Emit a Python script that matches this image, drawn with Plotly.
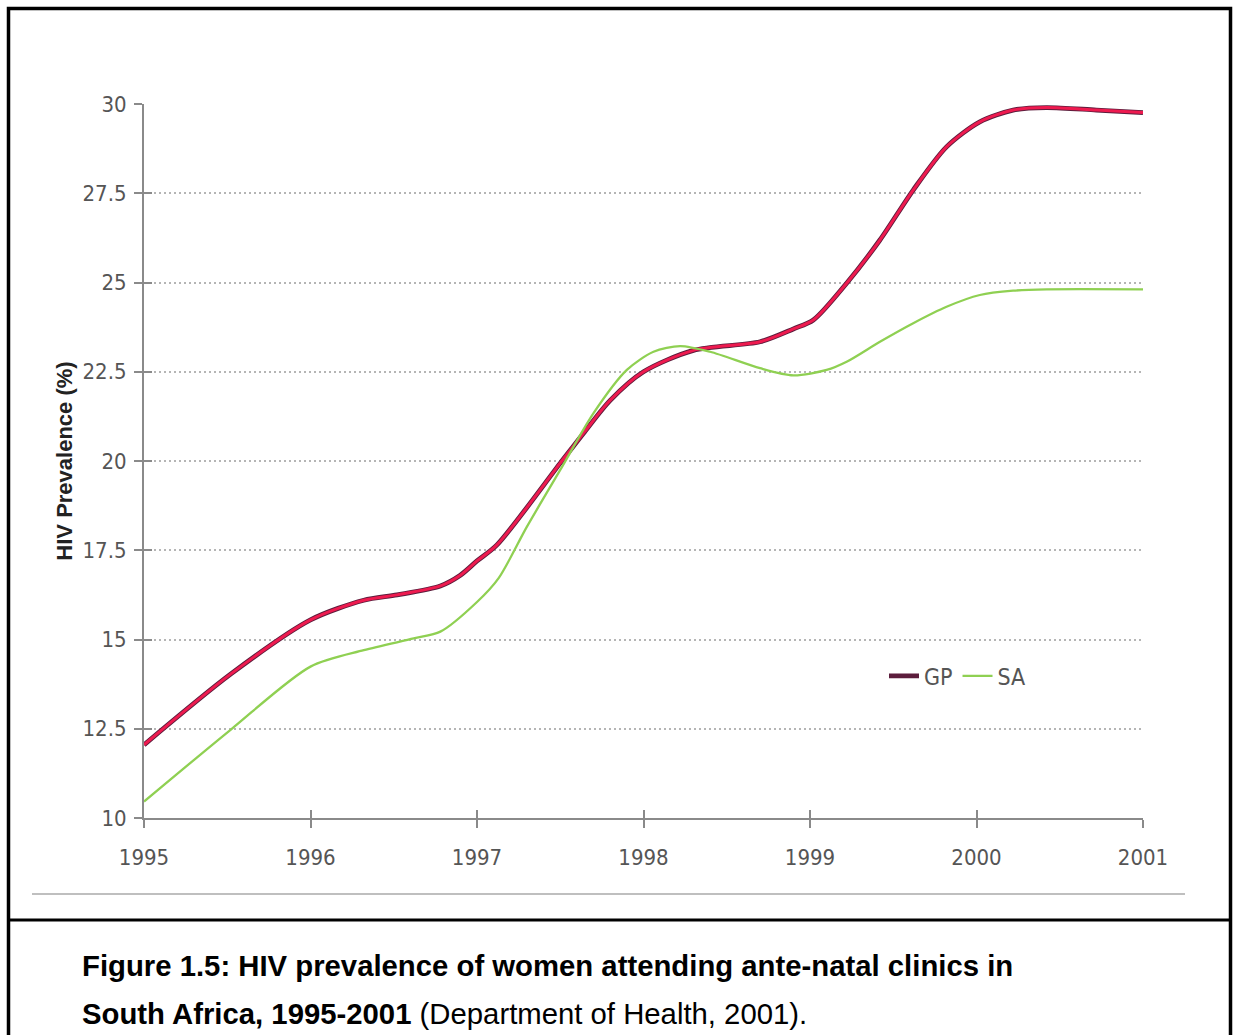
import plotly.graph_objects as go

# ---- data ----
gp_years = [1995.00, 1995.52, 1996.00, 1996.32, 1996.52, 1996.78, 1996.90, 1997.00,
            1997.12, 1997.50, 1997.64, 1997.80, 1998.00, 1998.30, 1998.70, 1998.90,
            1999.02, 1999.22, 1999.42, 1999.62, 1999.82, 2000.02, 2000.22, 2000.42,
            2000.72, 2001.00]
gp_values = [12.05, 14.03, 15.55, 16.10, 16.25, 16.50, 16.80, 17.20,
             17.65, 19.94, 20.78, 21.70, 22.50, 23.10, 23.34, 23.70,
             23.95, 24.98, 26.19, 27.59, 28.80, 29.50, 29.83, 29.90,
             29.83, 29.76]

sa_years = [1995.00, 1995.52, 1996.00, 1996.32, 1996.62, 1996.78, 1997.00, 1997.13,
            1997.30, 1997.50, 1997.70, 1997.90, 1998.06, 1998.22, 1998.40, 1998.70,
            1998.90, 1999.10, 1999.22, 1999.42, 1999.62, 1999.82, 2000.02, 2000.22,
            2000.42, 2001.00]
sa_values = [10.46, 12.47, 14.24, 14.70, 15.03, 15.22, 16.05, 16.72,
             18.16, 19.75, 21.34, 22.55, 23.06, 23.22, 23.06, 22.60,
             22.40, 22.55, 22.78, 23.34, 23.86, 24.32, 24.65, 24.77,
             24.81, 24.81]

x_ticks = [1995, 1996, 1997, 1998, 1999, 2000, 2001]
x_labels = ["1995", "1996", "1997", "1998", "1999", "2000", "2001"]
y_ticks = [10, 12.5, 15, 17.5, 20, 22.5, 25, 27.5, 30]
y_labels = ["10", "12.5", "15", "17.5", "20", "22.5", "25", "27.5", "30"]

series_names = ["GP", "SA"]
y_title = "HIV Prevalence (%)"
caption_1 = "<b>Figure 1.5: HIV prevalence of women attending ante-natal clinics in</b>"
caption_2 = "<b>South Africa, 1995-2001</b> (Department of Health, 2001)."

# ---- layout geometry (page pixels; body margin removed by post_script) ----
W, H = 1233, 1035
L, R, T, B = 144, 1143, 104, 818
pw, ph = R - L, B - T


def px(x):
    return (x - L) / pw


def py(y):
    return (B - y) / ph


NARROW = "DejaVu Sans Condensed, Liberation Sans Narrow, sans-serif"
AXIS_GRAY = "#8a8a8a"
TEXT_GRAY = "#555555"

fig = go.Figure()

fig.add_trace(go.Scatter(
    x=gp_years, y=gp_values, name=series_names[0], mode="lines",
    line=dict(color="#5c1d3c", width=4.8, shape="spline", smoothing=0.8),
    hoverinfo="skip"))
fig.add_trace(go.Scatter(
    x=gp_years, y=gp_values, name=series_names[0], mode="lines", showlegend=False,
    line=dict(color="#ee1a4f", width=3, shape="spline", smoothing=0.8)))
fig.add_trace(go.Scatter(
    x=sa_years, y=sa_values, name=series_names[1], mode="lines",
    xaxis="x2", yaxis="y2",
    line=dict(color="#8fd052", width=2.3, shape="spline", smoothing=0.8)))

axis_common = dict(showline=True, linecolor=AXIS_GRAY, linewidth=2,
                   tickcolor=AXIS_GRAY, tickwidth=2, ticklen=8,
                   zeroline=False, fixedrange=True)

fig.update_layout(
    width=W, height=H,
    margin=dict(l=L, r=W - R, t=T, b=H - B, pad=0),
    paper_bgcolor="white", plot_bgcolor="white",
    showlegend=True,
    legend=dict(orientation="h", x=px(884), y=py(676), xanchor="left", yanchor="middle",
                font=dict(family=NARROW, size=23, color=TEXT_GRAY),
                bgcolor="rgba(0,0,0,0)", itemwidth=30, tracegroupgap=0),
    xaxis=dict(range=[1995, 2001], tickmode="array", tickvals=x_ticks, ticktext=x_labels,
               ticks="outside", showgrid=False, ticklabelstandoff=11,
               tickfont=dict(family=NARROW, size=22, color=TEXT_GRAY), **axis_common),
    yaxis=dict(range=[10, 30], tickmode="array", tickvals=y_ticks, ticktext=y_labels,
               ticks="outside", showgrid=True, gridcolor="#b5b5b5", gridwidth=1.5,
               griddash="2px,3px", ticklabelstandoff=3,
               tickfont=dict(family=NARROW, size=22, color=TEXT_GRAY),
               title=dict(text=f"<b>{y_title}</b>", standoff=4,
                          font=dict(family="Liberation Sans, Arial, sans-serif", size=22,
                                    color="#222222")),
               **axis_common),
    xaxis2=dict(range=[1995, 2001], overlaying="x", tickmode="array", tickvals=x_ticks,
                ticks="inside", showticklabels=False, showgrid=False, **axis_common),
    yaxis2=dict(range=[10, 30], overlaying="y", tickmode="array", tickvals=y_ticks,
                ticks="inside", showticklabels=False, showgrid=False, **axis_common),
)

# frame, divider and thin rule
shapes = [
    dict(type="rect", xref="paper", yref="paper", x0=px(8.5), x1=px(1230.5), y0=py(1060), y1=py(8.5),
         line=dict(color="black", width=3.5), fillcolor="rgba(0,0,0,0)", layer="above"),
    dict(type="line", xref="paper", yref="paper", x0=px(8.5), x1=px(1230.5), y0=py(920), y1=py(920),
         line=dict(color="black", width=3)),
    dict(type="line", xref="paper", yref="paper", x0=px(32), x1=px(1185), y0=py(894), y1=py(894),
         line=dict(color="#aaaaaa", width=1.5)),
]
fig.update_layout(shapes=shapes)

cap_font = dict(family="Liberation Sans, Arial, sans-serif", size=29.3, color="black")
fig.add_annotation(text=caption_1, xref="paper", yref="paper", x=px(80), y=py(965),
                   xanchor="left", yanchor="middle", showarrow=False, font=cap_font)
fig.add_annotation(text=caption_2, xref="paper", yref="paper", x=px(80), y=py(1014),
                   xanchor="left", yanchor="middle", showarrow=False, font=cap_font)

page_css = ("document.body.style.margin='0';"
            "document.body.style.overflow='hidden';"
            "document.documentElement.style.overflow='hidden';")
fig.write_html("out.html", post_script=page_css, config={"displayModeBar": False})
